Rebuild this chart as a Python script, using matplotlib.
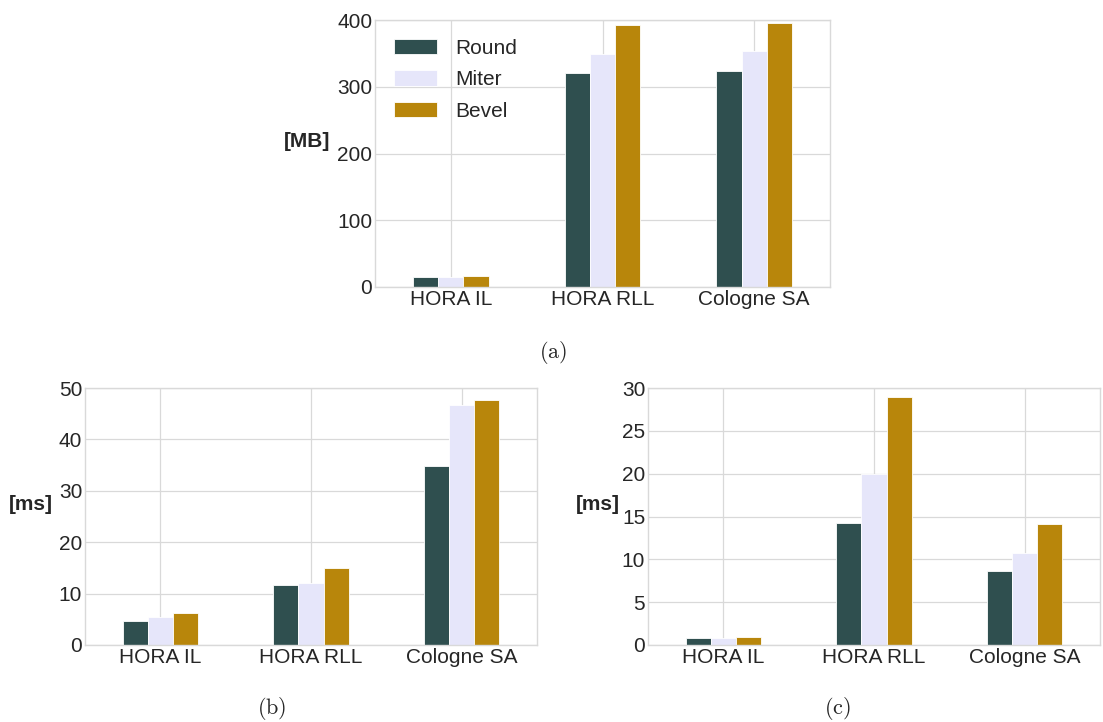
import numpy as np
import matplotlib
matplotlib.use('Agg')
import matplotlib.pyplot as plt

plt.style.use('seaborn-v0_8-whitegrid')
plt.rcParams['font.family'] = ['Liberation Sans', 'DejaVu Sans']
plt.rcParams['mathtext.fontset'] = 'cm'

# Data
datasets = ['HORA IL', 'HORA RLL', 'Cologne SA']
series = ['Round', 'Miter', 'Bevel']
colors = ['#2F4F4F', '#E6E6FA', '#B8860B']

# (a) memory [MB]
mem_round = [15, 320, 324]
mem_miter = [15, 349, 353]
mem_bevel = [17, 393, 395]

# (b) time [ms]
tb_round = [4.6, 11.7, 34.9]
tb_miter = [5.5, 12.0, 46.6]
tb_bevel = [6.3, 15.0, 47.6]

# (c) time [ms]
tc_round = [0.8, 14.2, 8.6]
tc_miter = [0.8, 20.0, 10.7]
tc_bevel = [0.9, 28.9, 14.1]

W, H = 1103, 722
fig = plt.figure(figsize=(W / 100, H / 100), dpi=100)


def px_axes(left, right, top, bottom):
    return fig.add_axes([left / W, 1 - bottom / H, (right - left) / W, (bottom - top) / H])


def bar_panel(ax, vals, ylim, yticks, ylabel, label_x, legend=False):
    x = np.arange(len(datasets))
    w = 0.5 / 3
    for i, (v, c, s) in enumerate(zip(vals, colors, series)):
        ax.bar(x + (i - 1) * w, v, w, color=c, label=s, edgecolor='white', linewidth=0.6, zorder=2)
    ax.set_xticks(x)
    ax.set_xticklabels(datasets)
    ax.set_xlim(-0.5, 2.5)
    ax.set_ylim(*ylim)
    ax.set_yticks(yticks)
    ax.tick_params(labelsize=15, colors='#262626', pad=2)
    ax.grid(True, color='#d9d9d9', linewidth=0.9, zorder=0)
    for sp in ax.spines.values():
        sp.set_color('#d9d9d9')
    ax.set_ylabel(ylabel, rotation=0, fontsize=15, fontweight='bold', ha='right', va='center', color='#262626')
    ax.yaxis.set_label_coords(label_x, 0.545)
    if legend:
        ax.legend(loc='upper left', fontsize=15, handlelength=2.07, handleheight=0.75,
                  handletextpad=0.9, labelspacing=0.6)


ax_a = px_axes(375, 830, 20, 287)
bar_panel(ax_a, [mem_round, mem_miter, mem_bevel], (0, 400), [0, 100, 200, 300, 400], '[MB]', -0.099, legend=True)

ax_b = px_axes(85, 537, 388, 645)
bar_panel(ax_b, [tb_round, tb_miter, tb_bevel], (0, 50), [0, 10, 20, 30, 40, 50], '[ms]', -0.071)

ax_c = px_axes(648, 1100, 388, 645)
bar_panel(ax_c, [tc_round, tc_miter, tc_bevel], (0, 30), [0, 5, 10, 15, 20, 25, 30], '[ms]', -0.062)

fig.text(553 / W, 1 - 352 / H, r'$\mathrm{(a)}$', fontsize=16, ha='center', va='center')
fig.text(272 / W, 1 - 708 / H, r'$\mathrm{(b)}$', fontsize=16, ha='center', va='center')
fig.text(837 / W, 1 - 708 / H, r'$\mathrm{(c)}$', fontsize=16, ha='center', va='center')

fig.savefig('out.png', dpi=100)
